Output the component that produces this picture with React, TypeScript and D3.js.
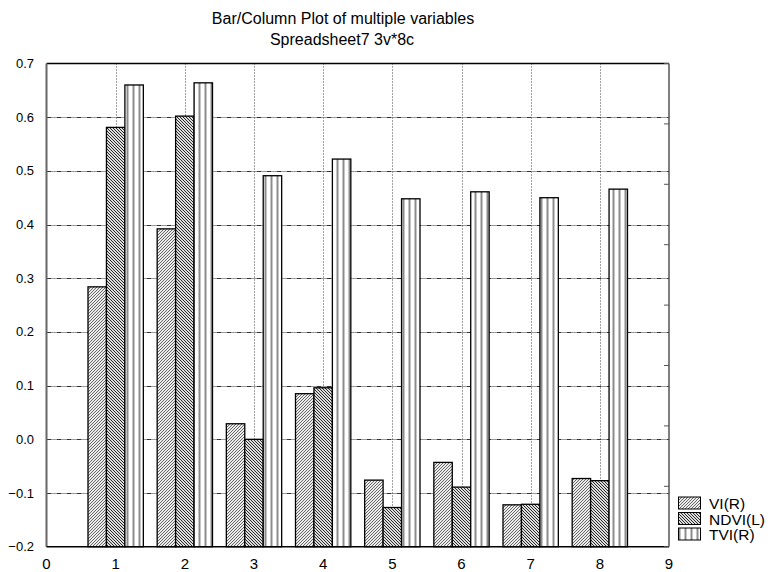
import React from "react";
import * as d3 from "d3";

const categories = [1, 2, 3, 4, 5, 6, 7, 8];
const seriesNames = ["VI(R)", "NDVI(L)", "TVI(R)"];
const viValues = [0.284, 0.392, 0.029, 0.085, -0.076, -0.043, -0.122, -0.073];
const ndviValues = [0.581, 0.602, 0.0, 0.096, -0.127, -0.089, -0.121, -0.077];
const tviValues = [0.66, 0.664, 0.491, 0.522, 0.448, 0.461, 0.45, 0.466];
const yTicks = [-0.2, -0.1, 0.0, 0.1, 0.2, 0.3, 0.4, 0.5, 0.6, 0.7];
const xTicks = [0, 1, 2, 3, 4, 5, 6, 7, 8, 9];
const rightTickCount = 8;

const W = 771;
const H = 572;
const FONT = "'Liberation Sans', Arial, sans-serif";

export default function App() {
  const x = d3.scaleLinear().domain([0, 9]).range([46.5, 669]);
  const y = d3.scaleLinear().domain([-0.2, 0.7]).range([546.7, 63.5]);
  const series = [viValues, ndviValues, tviValues];
  const fills = ["url(#hatchVI)", "url(#hatchNDVI)", "url(#hatchTVI)"];
  const groupW = 0.8;
  const barW = groupW / 3;
  const [x0, x1] = x.range();
  const [yb, yt] = y.range();
  const rightScale = d3.scaleLinear().domain([0, rightTickCount]).range([yb, yt]);
  const rightTicks = d3.range(0, rightTickCount + 1);

  return (
    <svg
      width={W}
      height={H}
      style={{ position: "absolute", left: 0, top: 0, background: "#fff" }}
      fontFamily={FONT}
    >
      <defs>
        <pattern id="hatchVI" patternUnits="userSpaceOnUse" width="3" height="3">
          <rect width="3" height="3" fill="#ececec" />
          <path d="M-1,1 L1,-1 M0,3 L3,0 M2,4 L4,2" stroke="#444" strokeWidth="0.8" />
        </pattern>
        <pattern id="hatchNDVI" patternUnits="userSpaceOnUse" width="3" height="3">
          <rect width="3" height="3" fill="#dcdcdc" />
          <path d="M-1,2 L1,4 M0,0 L3,3 M2,-1 L4,1" stroke="#222" strokeWidth="0.95" />
        </pattern>
        <pattern id="hatchTVI" patternUnits="userSpaceOnUse" width="6" height="10" x="0.5">
          <rect width="6" height="10" fill="#fff" />
          <rect x="0" width="2" height="10" fill="#8c8c8c" />
        </pattern>
      </defs>

      {/* title */}
      <text x={343} y={24} textAnchor="middle" fontSize={16}>
        Bar/Column Plot of multiple variables
      </text>
      <text x={342} y={45} textAnchor="middle" fontSize={16}>
        Spreadsheet7 3v*8c
      </text>

      {/* horizontal grid */}
      {yTicks.slice(1, -1).map((t) => (
        <line
          key={"hg" + t}
          x1={x0}
          x2={x1}
          y1={Math.round(y(t)) + 0.5}
          y2={Math.round(y(t)) + 0.5}
          stroke="#333"
          strokeWidth={1}
          strokeDasharray="5,1,1,1,1,1"
        />
      ))}
      {/* vertical grid */}
      {xTicks.slice(1, -1).map((t) => (
        <line
          key={"vg" + t}
          x1={Math.round(x(t)) + 0.5}
          x2={Math.round(x(t)) + 0.5}
          y1={yt}
          y2={yb}
          stroke="#444"
          strokeWidth={1}
          strokeDasharray="1,2"
        />
      ))}

      {/* bars */}
      {categories.map((c, ci) =>
        series.map((vals, si) => {
          const left = x(c - groupW / 2 + si * barW);
          const right = x(c - groupW / 2 + (si + 1) * barW);
          const top = y(vals[ci]);
          return (
            <rect
              key={"b" + ci + "-" + si}
              x={left}
              y={top}
              width={right - left}
              height={yb - top}
              fill={fills[si]}
              stroke="#000"
              strokeWidth={1.3}
            />
          );
        })
      )}

      {/* frame */}
      <line x1={x0} x2={x1} y1={yt} y2={yt} stroke="#000" strokeWidth={1.5} />
      <line x1={x1} x2={x1} y1={yt} y2={yb} stroke="#555" strokeWidth={1.5} />
      <line x1={x0} x2={x0} y1={yt} y2={yb} stroke="#666" strokeWidth={2} />
      <line x1={x0} x2={x1} y1={yb} y2={yb} stroke="#000" strokeWidth={1.5} />

      {/* right ticks */}
      {rightTicks.map((t) => (
        <line
          key={"rt" + t}
          x1={x1 - 5}
          x2={x1}
          y1={rightScale(t)}
          y2={rightScale(t)}
          stroke="#555"
          strokeWidth={1}
        />
      ))}

      {/* y tick labels */}
      {yTicks.map((t) => (
        <text key={"yl" + t} x={34} y={y(t) + 4.5} textAnchor="end" fontSize={13}>
          {d3.format(".1f")(t)}
        </text>
      ))}
      {/* x tick labels */}
      {xTicks.map((t) => (
        <text key={"xl" + t} x={x(t)} y={568.5} textAnchor="middle" fontSize={15}>
          {t}
        </text>
      ))}

      {/* legend */}
      {seriesNames.map((name, i) => {
        const ty = 497 + i * 15.5;
        return (
          <g key={"lg" + i}>
            <rect x={678.5} y={ty} width={22} height={12} fill={fills[i]} stroke="#000" strokeWidth={1} />
            <text x={709} y={ty + 12} fontSize={15.5}>
              {name}
            </text>
          </g>
        );
      })}
    </svg>
  );
}
